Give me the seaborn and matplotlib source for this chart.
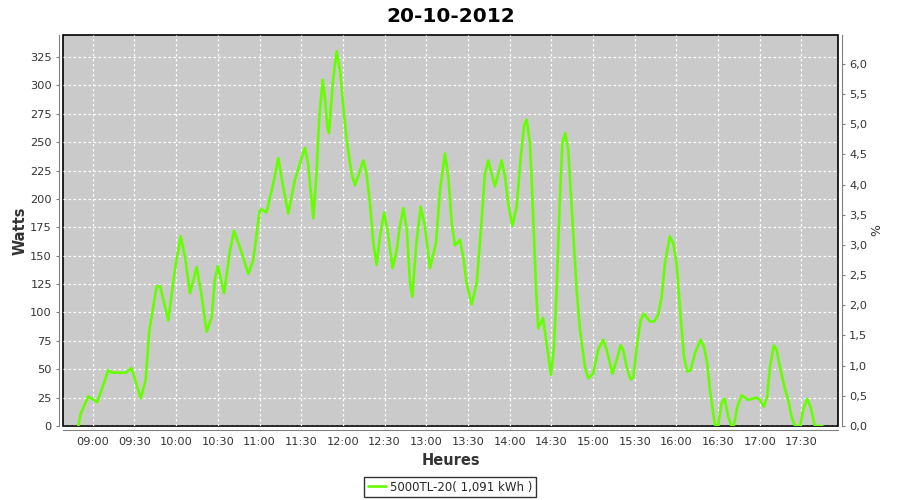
import matplotlib
matplotlib.use("Agg")
import matplotlib.pyplot as plt
from matplotlib.ticker import FuncFormatter
import pandas as pd
import seaborn as sns

title = "20-10-2012"
series_name = "5000TL-20( 1,091 kWh )"

# minutes after 09:00 and power
minutes = [
    -10.4, -8.6, -3.2, 3.3, 11.2, 14, 24, 28, 34.5, 38, 40.7, 46, 48.5, 54.4,
    59, 63.3, 66.4, 70, 74.8, 78.4, 82, 85.6, 88, 90, 94.5, 98.8, 101.7, 107,
    112, 115.5, 120, 121.5, 125, 130, 133.5, 137, 140.7, 145.5, 149, 152.7,
    155, 158.7, 161, 163, 165.5, 167, 169, 170, 172.7, 175.5, 178, 180.3,
    182.7, 186.3, 188.7, 191, 194.7, 197, 199.5, 201.9, 204.3, 206.7, 209.6,
    212, 215.8, 218.7, 221, 223.5, 226, 228.3, 230, 232.6, 236, 239, 242.7,
    247, 249.9, 253.5, 255.8, 258.3, 260.6, 264.2, 266.6, 269, 272.7, 276.3,
    280, 282.2, 284.6, 287, 289.4, 291.8, 294.2, 296.6, 299, 302, 305, 308,
    310.3, 312.2, 314.6, 315.8, 317.5, 319, 320.6, 324, 326.6, 329.7, 331.9,
    333.8, 336.2, 337.9, 340, 342.2, 344.6, 348.2, 350.6, 354.2, 356.5, 360.1,
    363.7, 367.3, 369.8, 374, 377, 379.8, 381.7, 384.2, 387, 389, 391.8,
    394.2, 396.6, 400.9, 403.8, 406.9, 409.4, 411.7, 415.3, 417.7, 420.1,
    422.5, 425.4, 427.8, 430.2, 433.3, 437.4, 439.8, 442.2, 444.1, 447.7, 450,
    452.5, 454.7, 457.3, 459.7, 461.3, 463.8, 466.9, 471.7, 477.7, 480, 482.9,
    485.3, 487.3, 490.1, 492.1, 494.5, 498, 500.4, 502.9, 505.3, 509, 511.2,
    514, 516.5, 519.6, 525,
]
watts = [
    0, 11, 26, 21, 49, 47, 47, 51, 24.5, 40, 84, 123, 123, 93,
    137, 167, 149, 117, 140, 114, 83, 96, 130, 141, 117, 155, 172, 153,
    134, 146, 189, 191, 188, 214, 236, 211, 187, 217, 231, 245,
    231, 183, 222, 272, 305, 290, 262, 258, 302, 330, 313, 281,
    252, 222, 212, 220, 234, 222, 196, 161, 142, 167, 188,
    173, 139, 155, 176, 192, 173, 126, 114, 158, 193, 176, 139,
    161, 208, 240, 220, 179, 159, 164, 149, 126, 107, 126,
    184, 222, 234, 222, 211, 222, 234, 220, 196, 176, 193, 237,
    264, 270, 249, 217, 167, 120, 86, 95, 73, 45, 70,
    120, 202, 249, 258, 243, 193, 120, 85, 52, 42, 46,
    67, 76, 67, 46, 58, 71, 67, 52, 41, 43, 73,
    93, 99, 92, 92, 98, 114, 143, 167, 161, 143,
    105, 61, 48, 49, 64, 76, 70, 55, 32, 1, 0,
    20, 24, 8, 0, 0, 17, 27, 23, 25, 23, 17,
    26, 52, 71, 67, 52, 33, 23, 8, 0, 0, 14,
    24, 17, 0, 0,
]

watt_ticks = list(range(0, 326, 25))
pct_ticks = [0.0, 0.5, 1.0, 1.5, 2.0, 2.5, 3.0, 3.5, 4.0, 4.5, 5.0, 5.5, 6.0]
time_ticks = ["09:00", "09:30", "10:00", "10:30", "11:00", "11:30", "12:00",
              "12:30", "13:00", "13:30", "14:00", "14:30", "15:00", "15:30",
              "16:00", "16:30", "17:00", "17:30"]

start = pd.Timestamp("2012-10-20 09:00")
df = pd.DataFrame({
    "heure": start + pd.to_timedelta(minutes, unit="min"),
    "watts": watts,
})

sns.set_style("white")
plt.rcParams["font.family"] = ["DejaVu Sans"]

fig = plt.figure(figsize=(9, 5), dpi=100)
ax = fig.add_axes([0.07, 0.148, 0.861, 0.782])
ax.set_facecolor("#cacaca")
ax.patch.set_edgecolor("black")
ax.patch.set_linewidth(1.2)

sns.lineplot(data=df, x="heure", y="watts", ax=ax, color="#66ff00",
             linewidth=1.9, label=series_name, legend=False)

ax.set_xlim(start - pd.Timedelta(minutes=21.4), start + pd.Timedelta(minutes=536.2))
ax.set_ylim(0, 344.4)
ax.set_yticks(watt_ticks)
tick_pos = [pd.Timestamp("2012-10-20 " + t) for t in time_ticks]
ax.set_xticks(tick_pos)
ax.set_xticklabels(time_ticks)

ax.grid(True, color="white", linestyle=(0, (2, 2)), linewidth=0.9)
for side in ["top", "right"]:
    ax.spines[side].set_visible(False)
for side in ["left", "bottom"]:
    ax.spines[side].set_position(("outward", 3))
    ax.spines[side].set_color("#808080")
ax.tick_params(axis="both", length=2, color="#808080", labelsize=8.2,
               labelcolor="#333333", pad=3)

ax.set_xlabel("Heures", fontsize=10.5, fontweight="bold", color="#333333", labelpad=4)
ax.set_ylabel("Watts", fontsize=10.5, fontweight="bold", color="#333333", labelpad=2)
ax.set_title(title, fontsize=14.5, fontweight="bold", color="black", pad=9)

ax2 = ax.twinx()
ax2.set_ylim(0, 6.48)
ax2.set_yticks(pct_ticks)
ax2.yaxis.set_major_formatter(FuncFormatter(lambda v, p: f"{v:.1f}".replace(".", ",")))
for side in ["top", "left", "bottom"]:
    ax2.spines[side].set_visible(False)
ax2.spines["right"].set_position(("outward", 3))
ax2.spines["right"].set_color("#808080")
ax2.tick_params(axis="y", length=2, color="#808080", labelsize=8.2,
                labelcolor="#333333", pad=3)
ax2.set_ylabel("%", fontsize=9, color="#333333", rotation=90, labelpad=2)

handles, labels = ax.get_legend_handles_labels()
leg = fig.legend(handles, labels, loc="center", bbox_to_anchor=(0.5, 0.026),
                 frameon=True, fancybox=False, fontsize=8.5, handlelength=1.6,
                 handletextpad=0.3, borderpad=0.3, borderaxespad=0)
leg.get_frame().set_edgecolor("black")
leg.get_frame().set_linewidth(1.0)

fig.savefig("out.png", dpi=100)
